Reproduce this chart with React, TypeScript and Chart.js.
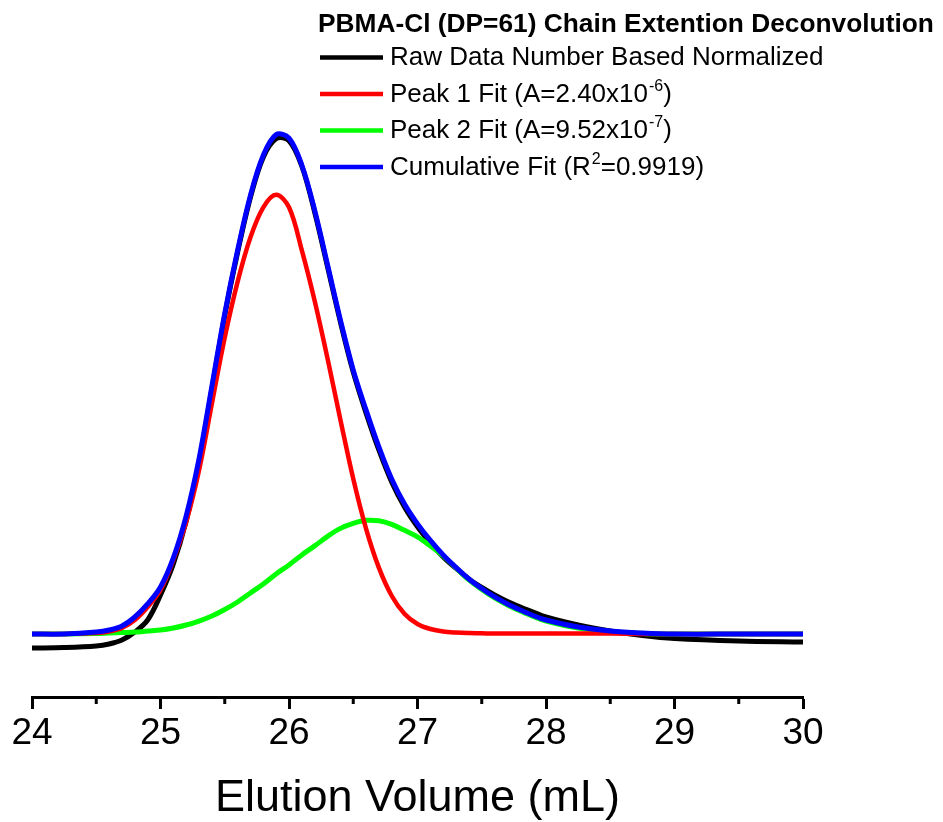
import React, { useEffect, useRef } from "react";
import { Chart, registerables } from "chart.js";

Chart.register(...registerables);

// Elution volume (mL) sample positions
const elutionVolume = [
  24.0, 24.25, 24.5, 24.6, 24.7, 24.8, 24.9, 25.0,
  25.1, 25.2, 25.3, 25.4, 25.5, 25.6, 25.7, 25.8, 25.9, 26.0,
  26.1, 26.2, 26.3, 26.4, 26.5, 26.6, 26.7, 26.8, 26.9, 27.0,
  27.1, 27.2, 27.3, 27.4, 27.5, 27.6, 27.7, 27.8, 27.9, 28.0,
  28.25, 28.5, 28.75, 29.0, 29.5, 30.0,
];

// Raw data, number based normalized (black)
const rawData = [
  -0.028, -0.027, -0.024, -0.02, -0.012, 0.004, 0.028, 0.078,
  0.14, 0.226, 0.342, 0.489, 0.636, 0.762, 0.872, 0.952, 0.989, 0.985,
  0.934, 0.842, 0.733, 0.623, 0.523, 0.441, 0.367, 0.303, 0.253, 0.214,
  0.182, 0.154, 0.131, 0.11, 0.093, 0.078, 0.065, 0.054, 0.044, 0.034,
  0.018, 0.006, -0.003, -0.009, -0.014, -0.016,
];

// Peak 1 fit (red)
const peak1Fit = [
  0, 0, 0.002, 0.005, 0.012, 0.028, 0.054, 0.088,
  0.148, 0.224, 0.327, 0.46, 0.592, 0.703, 0.792, 0.852, 0.877, 0.852,
  0.766, 0.665, 0.55, 0.428, 0.31, 0.21, 0.132, 0.076, 0.04, 0.02,
  0.01, 0.005, 0.003, 0.002, 0.0015, 0.001, 0.001, 0.001, 0.001, 0.001,
  0.001, 0.001, 0, 0, 0, 0,
];

// Peak 2 fit (green)
const peak2Fit = [
  0, 0, 0.001, 0.002, 0.003, 0.004, 0.006, 0.008,
  0.012, 0.018, 0.026, 0.036, 0.049, 0.064, 0.082, 0.1, 0.12, 0.138,
  0.158, 0.176, 0.195, 0.211, 0.221, 0.227, 0.226, 0.219, 0.207, 0.194,
  0.176, 0.156, 0.132, 0.108, 0.089, 0.072, 0.058, 0.046, 0.035, 0.026,
  0.012, 0.005, 0.001, 0, 0, 0,
];

// Cumulative fit (blue)
const cumulativeFit = [
  0, 0, 0.004, 0.008, 0.016, 0.034, 0.06, 0.094,
  0.152, 0.236, 0.35, 0.495, 0.64, 0.766, 0.876, 0.956, 0.997, 0.99,
  0.936, 0.846, 0.737, 0.627, 0.527, 0.447, 0.373, 0.309, 0.259, 0.22,
  0.187, 0.158, 0.133, 0.11, 0.091, 0.074, 0.06, 0.048, 0.037, 0.028,
  0.014, 0.006, 0.002, 0, 0, 0,
];

const xTickValues = [24, 25, 26, 27, 28, 29, 30];
const xMinorTickValues = [24.5, 25.5, 26.5, 27.5, 28.5, 29.5];

const legendTitle = "PBMA-Cl (DP=61) Chain Extention Deconvolution";
const seriesLabels = [
  "Raw Data Number Based Normalized",
  "Peak 1 Fit (A=2.40x10⁻⁶)",
  "Peak 2 Fit (A=9.52x10⁻⁷)",
  "Cumulative Fit (R²=0.9919)",
];
// legend text split into [normal, superscript, normal]
const legendParts: [string, string, string][] = [
  ["Raw Data Number Based Normalized", "", ""],
  ["Peak 1 Fit (A=2.40x10", "-6", ")"],
  ["Peak 2 Fit (A=9.52x10", "-7", ")"],
  ["Cumulative Fit (R", "2", "=0.9919)"],
];
const seriesColors = ["#000000", "#ff0000", "#00ff00", "#0000ff"];
const FONT = '"Liberation Sans", Arial, Helvetica, sans-serif';

const legendPlugin = {
  id: "customLegend",
  afterDraw(chart: any) {
    const ctx = chart.ctx as CanvasRenderingContext2D;
    ctx.save();
    ctx.fillStyle = "#000";
    ctx.textBaseline = "alphabetic";
    ctx.textAlign = "left";
    ctx.font = `bold 26.3px ${FONT}`;
    ctx.fillText(legendTitle, 318, 32);
    const rowBase = 65;
    const rowStep = 36.5;
    legendParts.forEach((parts, i) => {
      const base = rowBase + i * rowStep;
      ctx.strokeStyle = seriesColors[i];
      ctx.lineWidth = 4.5;
      ctx.beginPath();
      ctx.moveTo(320, base - 7.5);
      ctx.lineTo(383, base - 7.5);
      ctx.stroke();
      let x = 390;
      ctx.fillStyle = "#000";
      ctx.font = `26px ${FONT}`;
      ctx.fillText(parts[0], x, base);
      x += ctx.measureText(parts[0]).width;
      if (parts[1]) {
        ctx.font = `16px ${FONT}`;
        ctx.fillText(parts[1], x + 1, base - 11);
        x += ctx.measureText(parts[1]).width + 1;
        ctx.font = `26px ${FONT}`;
      }
      if (parts[2]) ctx.fillText(parts[2], x, base);
    });
    ctx.restore();
  },
};

const minorTickPlugin = {
  id: "minorTicks",
  afterDraw(chart: any) {
    const ctx = chart.ctx as CanvasRenderingContext2D;
    const xs = chart.scales.x;
    const y0 = chart.chartArea.bottom;
    ctx.save();
    ctx.strokeStyle = "#000";
    ctx.lineWidth = 3;
    xMinorTickValues.forEach((v) => {
      const px = xs.getPixelForValue(v);
      ctx.beginPath();
      ctx.moveTo(px, y0);
      ctx.lineTo(px, y0 + 7);
      ctx.stroke();
    });
    ctx.restore();
  },
};

export default function App() {
  const canvasRef = useRef<HTMLCanvasElement | null>(null);

  useEffect(() => {
    if (!canvasRef.current) return;
    const mk = (label: string, values: number[], color: string, order: number, width: number) => ({
      label,
      data: elutionVolume.map((x, i) => ({ x, y: values[i] })),
      borderColor: color,
      backgroundColor: color,
      borderWidth: width,
      pointRadius: 0,
      fill: false,
      tension: 0.35,
      order,
    });
    const chart = new Chart(canvasRef.current, {
      type: "line",
      data: {
        datasets: [
          mk(seriesLabels[0], rawData, seriesColors[0], 3, 5),
          mk(seriesLabels[1], peak1Fit, seriesColors[1], 1, 4.5),
          mk(seriesLabels[2], peak2Fit, seriesColors[2], 2, 5),
          mk(seriesLabels[3], cumulativeFit, seriesColors[3], 0, 5),
        ],
      },
      options: {
        animation: false,
        responsive: false,
        layout: { padding: { left: 32, right: 140, top: 33, bottom: 0 } },
        plugins: { legend: { display: false }, tooltip: { enabled: false } },
        scales: {
          x: {
            type: "linear",
            min: 24,
            max: 30,
            afterFit: (scale: any) => {
              scale.height = 125;
            },
            afterBuildTicks: (scale: any) => {
              scale.ticks = xTickValues.map((v) => ({ value: v }));
            },
            ticks: {
              color: "#000",
              font: { family: FONT, size: 37 },
              padding: 3,
              maxRotation: 0,
              callback: (v: any) => String(v),
            },
            grid: {
              display: true,
              drawOnChartArea: false,
              drawTicks: true,
              tickLength: 12,
              tickWidth: 3,
              tickColor: "#000",
            },
            border: { display: true, color: "#000", width: 3 },
            title: {
              display: true,
              text: "Elution Volume (mL)",
              color: "#000",
              font: { family: FONT, size: 45, lineHeight: 1.05 },
              padding: { top: 0, bottom: 0 },
            },
          },
          y: {
            type: "linear",
            display: false,
            min: -0.1257,
            max: 1.2,
          },
        },
      },
      plugins: [legendPlugin, minorTickPlugin],
    });
    return () => chart.destroy();
  }, []);

  return (
    <div style={{ position: "fixed", left: 0, top: 0, width: 943, height: 822, background: "#fff" }}>
      <canvas ref={canvasRef} width={943} height={822} style={{ width: 943, height: 822, display: "block" }} />
    </div>
  );
}
